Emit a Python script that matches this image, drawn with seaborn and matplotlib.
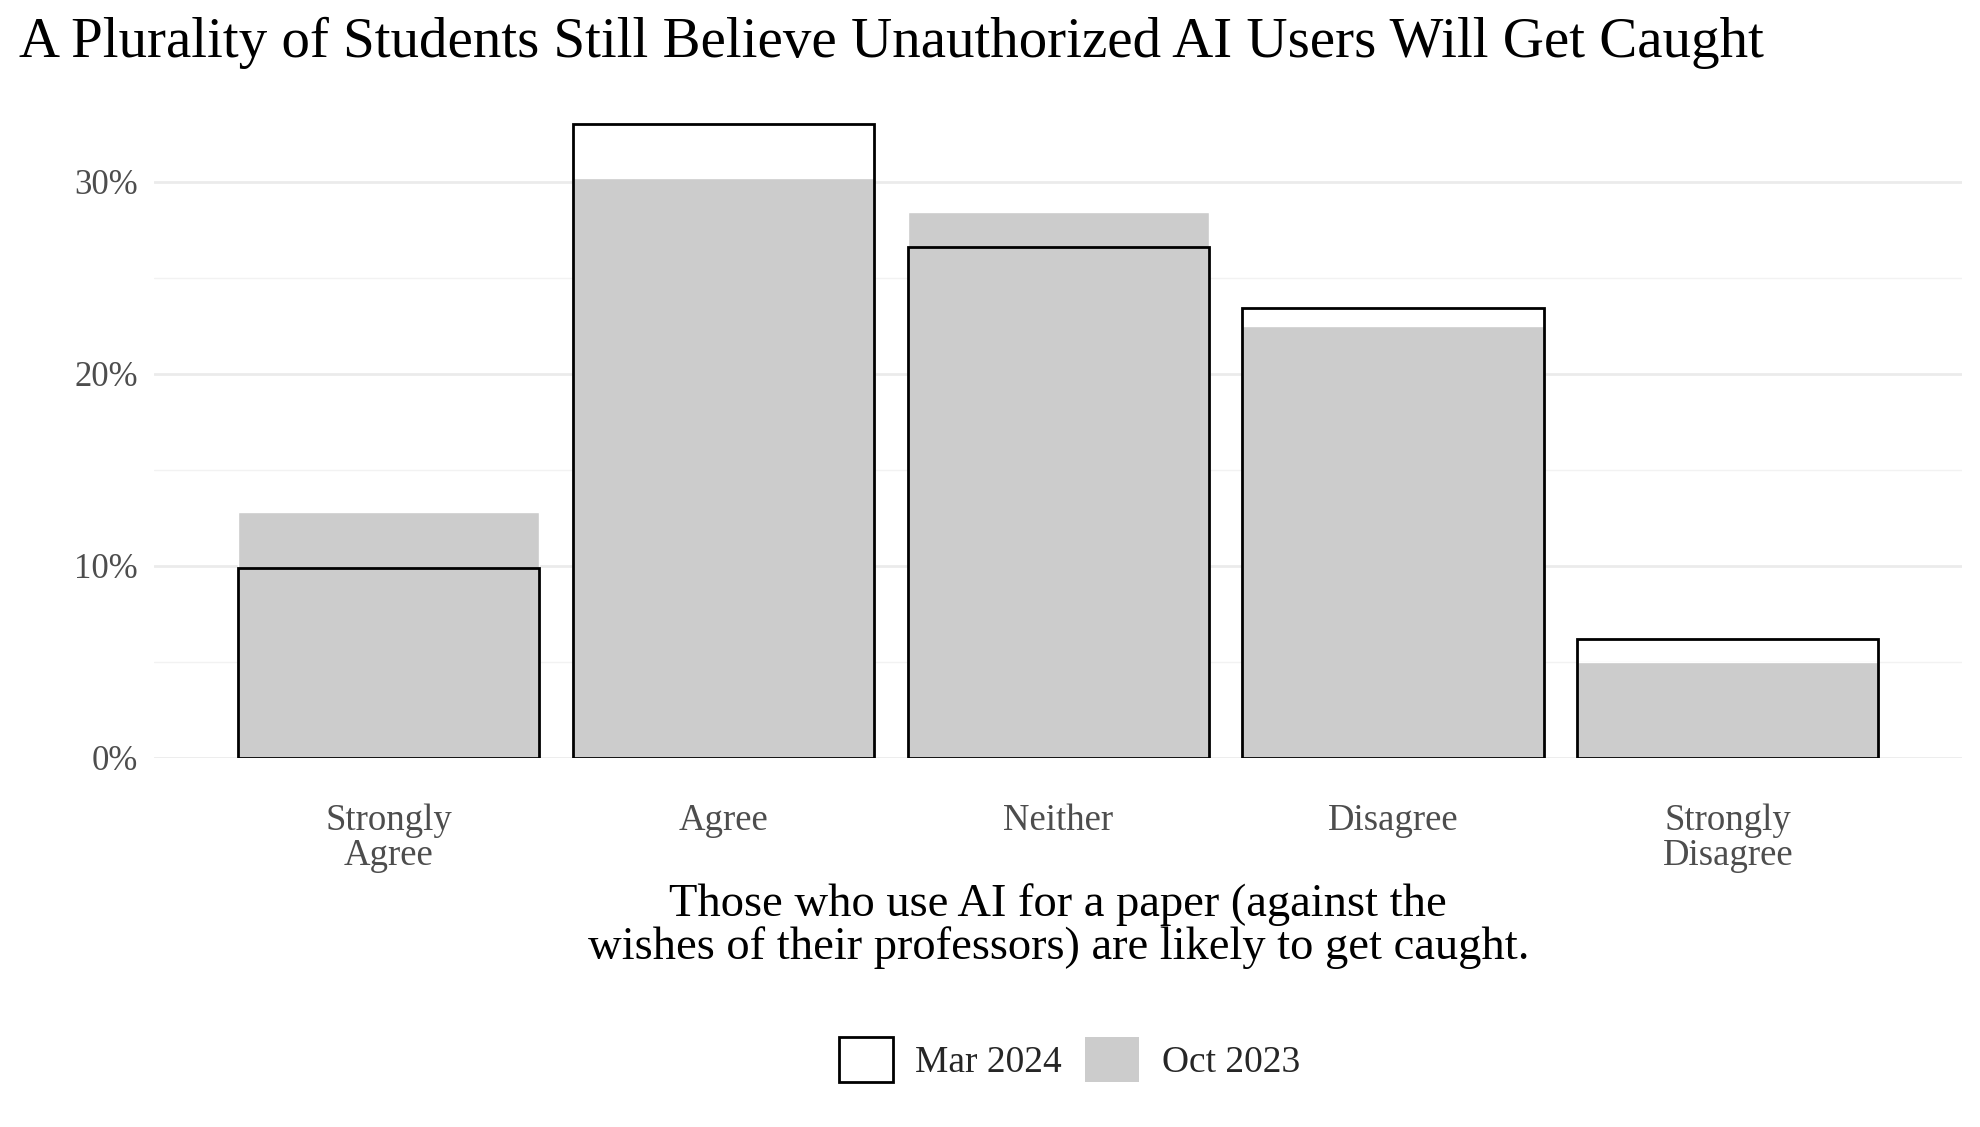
import matplotlib
matplotlib.use("Agg")
import matplotlib.pyplot as plt
import seaborn as sns
from matplotlib.patches import Patch
from matplotlib.ticker import FuncFormatter, MultipleLocator

# ---- data (percent of respondents) ----
categories = ["Strongly\nAgree", "Agree", "Neither", "Disagree", "Strongly\nDisagree"]
oct_2023 = [12.8, 30.2, 28.4, 22.5, 5.0]
mar_2024 = [9.9, 33.0, 26.6, 23.4, 6.2]

sns.set_theme(style="white")
plt.rcParams["font.family"] = ["Liberation Serif", "DejaVu Serif"]

fig = plt.figure(figsize=(19.8, 11.27), dpi=100)
ax = fig.add_axes([0.078, 0.3277, 0.913, 0.5903])

# gridlines first so bars sit on top
ax.yaxis.set_major_locator(MultipleLocator(10))
ax.yaxis.set_minor_locator(MultipleLocator(5))
ax.grid(axis="y", which="major", color="#ebebeb", linewidth=2.0)
ax.grid(axis="y", which="minor", color="#f2f2f2", linewidth=1.0)
ax.grid(axis="x", visible=False)
ax.set_axisbelow(True)

sns.barplot(x=categories, y=oct_2023, color="#cccccc", width=0.9,
            saturation=1, ax=ax, zorder=2)
sns.barplot(x=categories, y=mar_2024, color="black", fill=False, width=0.9,
            linewidth=2.0, ax=ax, zorder=3)

ax.set_ylim(0, 34.65)
ax.set_xlim(-0.7, 4.7)
ax.yaxis.set_major_formatter(FuncFormatter(lambda v, pos: f"{v:.0f}%"))
for s in ax.spines.values():
    s.set_visible(False)
ax.tick_params(axis="both", which="both", length=0)
ax.tick_params(axis="y", labelsize=25, labelcolor="#4d4d4d", pad=12)
ax.tick_params(axis="x", labelsize=26.5, labelcolor="#4d4d4d", pad=33)
for lab in ax.get_xticklabels():
    lab.set_linespacing(1.0)

ax.set_ylabel("")
ax.set_xlabel("Those who use AI for a paper (against the\nwishes of their professors) are likely to get caught.",
              fontsize=33.5, color="black", labelpad=8, linespacing=1.0)

fig.text(0.0096, 0.985, "A Plurality of Students Still Believe Unauthorized AI Users Will Get Caught",
         fontsize=41, color="black", ha="left", va="top")

handles = [Patch(facecolor="white", edgecolor="black", linewidth=2.0, label="Mar 2024"),
           Patch(facecolor="#cccccc", edgecolor="none", label="Oct 2023")]
fig.legend(handles=handles, loc="center", bbox_to_anchor=(0.540, 0.06), ncol=2,
           frameon=False, fontsize=27, handlelength=1.45, handleheight=1.45,
           handletextpad=0.6, columnspacing=0.6)

fig.savefig("out.png", dpi=100)
